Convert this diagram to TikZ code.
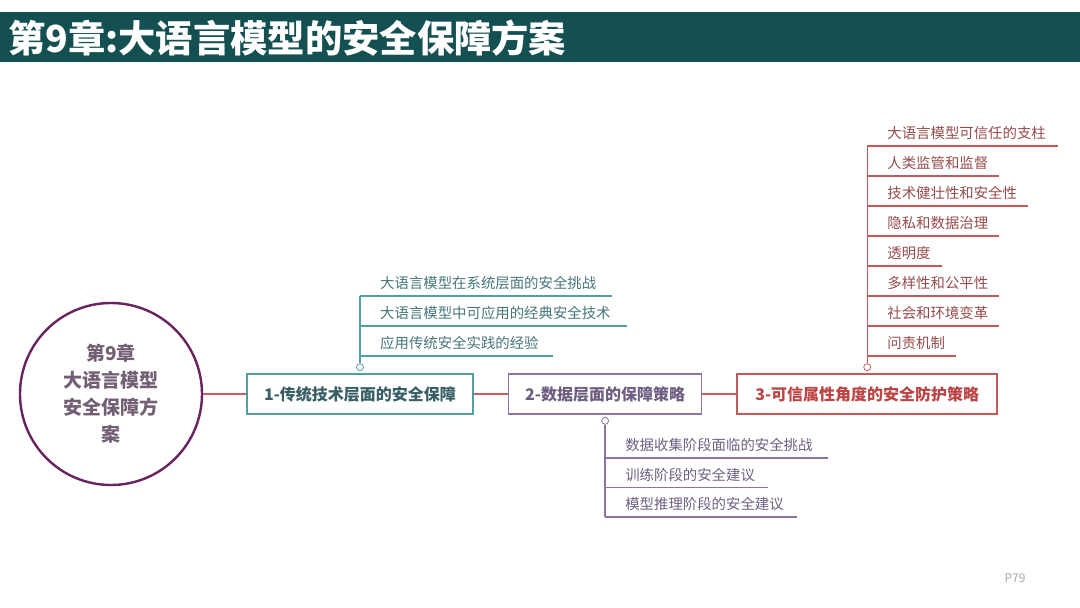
\documentclass[tikz,border=0pt]{standalone}
\usepackage{fontspec}
\setmainfont{Noto Sans CJK SC}
\usetikzlibrary{positioning}
\definecolor{titlebg}{RGB}{20,80,82}
\definecolor{rootc}{RGB}{105,35,95}
\definecolor{roottext}{RGB}{115,95,115}
\definecolor{linkc}{RGB}{200,95,95}
\definecolor{tealc}{RGB}{80,160,162}
\definecolor{tealtext}{RGB}{70,118,122}
\definecolor{tealdark}{RGB}{55,95,100}
\definecolor{purpc}{RGB}{140,115,160}
\definecolor{purptext}{RGB}{110,95,130}
\definecolor{redc}{RGB}{195,90,90}
\definecolor{redtext}{RGB}{150,75,75}
\definecolor{reddark}{RGB}{188,68,68}

\begin{document}
\begin{tikzpicture}[x=1pt,y=-1pt,every node/.style={inner sep=0pt},
    topic/.style={draw,line width=1.6pt,minimum height=40pt,fill=white,font=\fontsize{16}{19}\selectfont\bfseries},
    leaf/.style={anchor=base west,font=\fontsize{14.4}{17}\selectfont},
    knob/.style={circle,draw=#1,fill=white,line width=0.8pt,minimum size=7pt},
    link/.style={draw=linkc,line width=1.8pt}]
  \useasboundingbox (0,0) rectangle (1080,608);
  % title bar
  \fill[titlebg] (0,12) rectangle (1080,62);
  \node[anchor=west,text=white,font=\fontsize{37.3}{40}\selectfont\bfseries] (title) at (8,38) {第9章:大语言模型的安全保障方案};

  % root and the three topics
  \node[circle,draw=rootc,line width=2.4pt,minimum size=182pt,align=center,text=roottext,
        font=\fontsize{19}{27}\selectfont\bfseries] (root) at (111,394) {第9章\\大语言模型\\安全保障方\\案};
  \node[topic,draw=tealc,text=tealdark,minimum width=226pt,right=43pt of root] (b1) {1-传统技术层面的安全保障};
  \node[topic,draw=purpc,text=purptext,minimum width=193pt,right=34pt of b1] (b2) {2-数据层面的保障策略};
  \node[topic,draw=redc,text=reddark,minimum width=260pt,right=34pt of b2] (b3) {3-可信属性角度的安全防护策略};
  \draw[link] (root) -- (b1);
  \draw[link] (b1) -- (b2);
  \draw[link] (b2) -- (b3);

  % branch 1
  \foreach \i/\t/\e in {1/大语言模型在系统层面的安全挑战/612,2/大语言模型中可应用的经典安全技术/627,3/应用传统安全实践的经验/553}{
    \coordinate (a\i) at (b1.center |- 0,266+30*\i);
    \coordinate (ae\i) at (\e,266+30*\i);
    \node[leaf,text=tealtext] (at\i) at ([xshift=20pt,yshift=7.5pt]a\i) {\t};
    \draw[tealc,line width=1.4pt] (a\i) -- (ae\i);
  }
  \node[knob=tealc] (k1) at ([yshift=6pt]b1.north) {};
  \draw[tealc,line width=1.4pt] (k1) -- (a1);

  % branch 2
  \foreach \i/\t/\e in {1/数据收集阶段面临的安全挑战/828,2/训练阶段的安全建议/768,3/模型推理阶段的安全建议/797}{
    \coordinate (d\i) at (b2.center |- 0,428.5+29.5*\i);
    \coordinate (de\i) at (\e,428.5+29.5*\i);
    \node[leaf,text=purptext] (dt\i) at ([xshift=20pt,yshift=7.5pt]d\i) {\t};
    \draw[purpc,line width=1.4pt] (d\i) -- (de\i);
  }
  \node[knob=purpc] (k2) at ([yshift=-6pt]b2.south) {};
  \draw[purpc,line width=1.4pt] (k2) -- (d3);

  % branch 3
  \foreach \i/\t/\e in {1/大语言模型可信任的支柱/1058,2/人类监管和监督/999,3/技术健壮性和安全性/1028,4/隐私和数据治理/999,
                        5/透明度/942,6/多样性和公平性/999,7/社会和环境变革/999,8/问责机制/956}{
    \coordinate (c\i) at (b3.center |- 0,116+30*\i);
    \coordinate (ce\i) at (\e,116+30*\i);
    \node[leaf,text=redtext] (ct\i) at ([xshift=20pt,yshift=7.5pt]c\i) {\t};
    \draw[redc,line width=1.4pt] (c\i) -- (ce\i);
  }
  \node[knob=redc] (k3) at ([yshift=6pt]b3.north) {};
  \draw[redc,line width=1.4pt] (k3) -- (c1);

  % page number
  \node[text=black!35,font=\fontsize{12}{14}\selectfont] (page) at (1015,578) {P79};
\end{tikzpicture}
\end{document}
